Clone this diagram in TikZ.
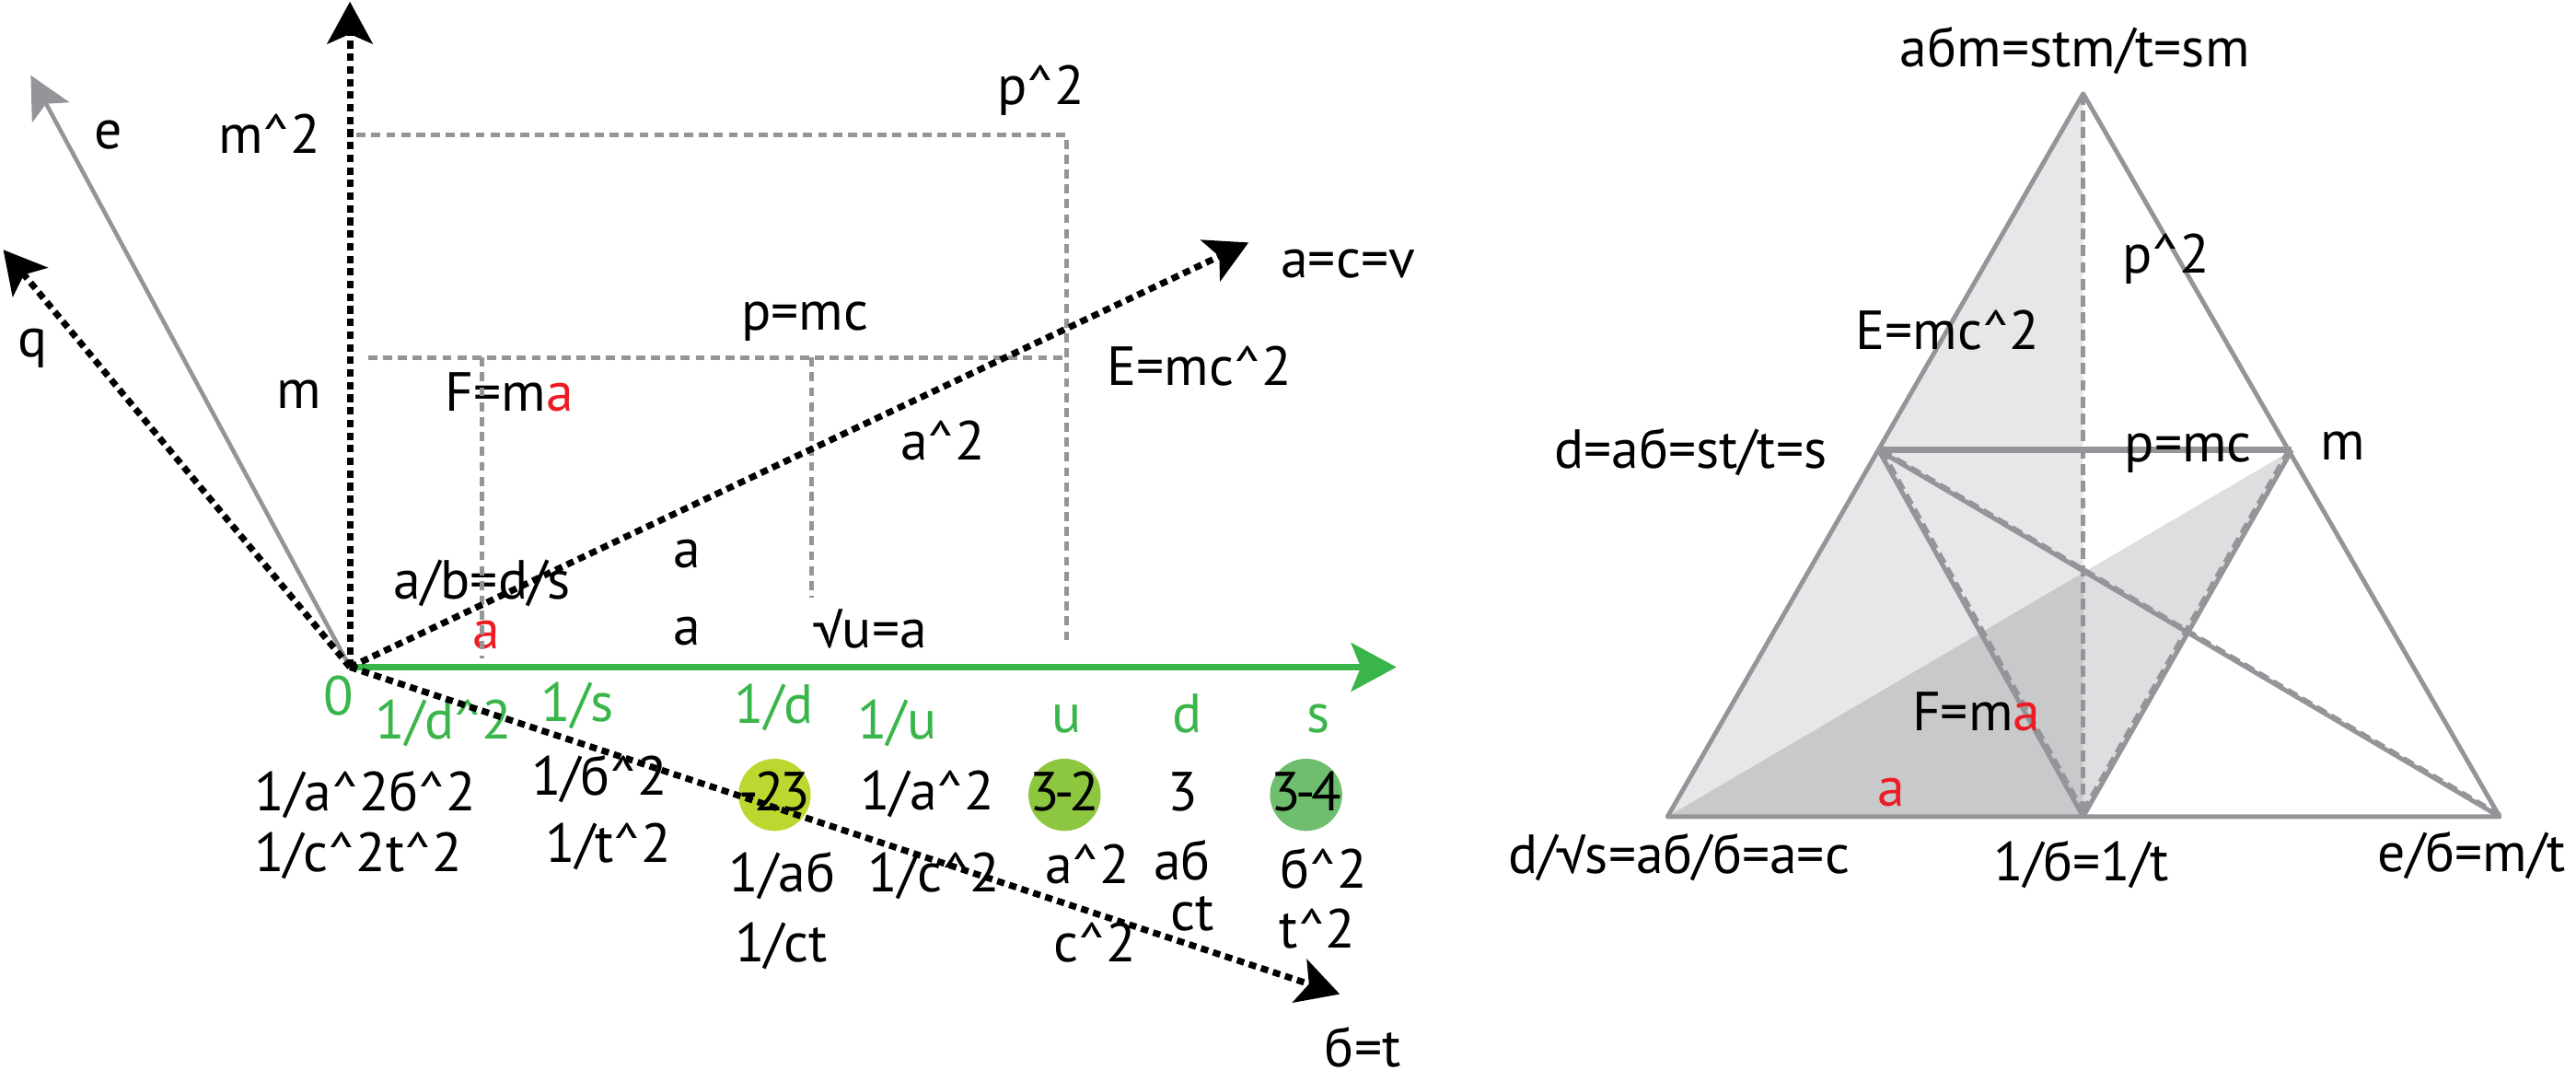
\documentclass[tikz,border=0pt]{standalone}
\usepackage{fontspec}
\setmainfont{PT Sans}
\usepackage{tikz}
\usetikzlibrary{arrows.meta,positioning}
\definecolor{EqGreen}{HTML}{39B54A}
\definecolor{EqRed}{HTML}{ED1C24}
\definecolor{EqGray}{HTML}{939598}
\definecolor{ShadeA}{HTML}{E6E7E8}
\definecolor{ShadeB}{HTML}{DDDEDF}
\definecolor{ShadeC}{HTML}{C8C9CB}
\definecolor{DotLime}{HTML}{BED630}
\definecolor{DotGreen}{HTML}{8DC63F}
\definecolor{DotSage}{HTML}{6FBE6D}
\newcommand{\pw}{\textasciicircum}

\begin{document}
\begin{tikzpicture}[
  x=0.017844cm, y=-0.017844cm,
  lbl/.style={font=\fontsize{17}{20}\selectfont,inner sep=0pt,anchor=base},
  glbl/.style={lbl,text=EqGreen},
  rlbl/.style={lbl,text=EqRed},
  dotfill/.style={circle,minimum size=22.3pt,inner sep=0pt},
  dotarr/.style={draw=black,line width=2pt,dash pattern=on 2.3pt off 1.6pt,
                 -{Stealth[length=13pt,width=14pt,inset=3pt]}},
  grayarr/.style={draw=EqGray,line width=1.3pt,-{Stealth[length=13pt,width=13pt,inset=3pt]}},
  axisarr/.style={draw=EqGreen,line width=1.9pt,-{Stealth[length=14pt,width=15pt,inset=3pt]}},
  guide/.style={draw=EqGray,line width=1.4pt,dash pattern=on 2.8pt off 1.8pt},
  rim/.style={draw=EqGray,line width=1.4pt,line join=round},
  hinge/.style={draw=EqGray,line width=1.3pt,dash pattern=on 3.4pt off 1.8pt}
]
\useasboundingbox (0,0) rectangle (1568,658);

% triangle on the right
\coordinate (apex) at (1268,57);
\coordinate (BL) at (1015,497);
\coordinate (BM) at (1268,497);
\coordinate (BR) at (1521.5,497);
\coordinate (dL) at (1143.5,274);
\coordinate (mR) at (1395,274);
\coordinate (P) at (intersection of BL--mR and apex--BM);
\fill[ShadeA] (apex) -- (BL) -- (BM) -- cycle;
\fill[ShadeB] (BL) -- (mR) -- (BM) -- cycle;
\fill[ShadeC] (BL) -- (P) -- (BM) -- cycle;
\draw[rim] (BL) -- (apex) -- (BR) -- cycle;
\draw[rim,line width=2pt] (dL) -- (mR);
\draw[hinge] (apex) -- (BM);
\foreach \a/\b/\sh in {dL/BM/1pt,dL/BR/1pt,mR/BM/-1pt} {
  \draw[rim] (\a) -- (\b);
  \draw[hinge,transform canvas={xshift=\sh}] (\a) -- (\b);
}

\node[lbl] (tTop) at (1263,40.8) {aбm=stm/t=sm};
\node[lbl] (tPsq) at (1318.5,166.4) {p\pw2};
\node[lbl] (tEmc) at (1185.5,212.6) {E=mc\pw2};
\node[lbl] (tD) at (1029,284.7) {d=aб=st/t=s};
\node[lbl] (tPmc) at (1332,281.1) {p=mc};
\node[lbl] (tM) at (1426,280.2) {m};
\node[lbl] (tFma) at (1203,444.6) {F=m\textcolor{EqRed}{a}};
\node[rlbl] (tA) at (1151,490.4) {a};
\node[lbl] (tBL) at (1022,531.6) {d/√s=aб/б=a=c};
\node[lbl] (tBM) at (1267,536) {1/б=1/t};
\node[lbl] (tBR) at (1504.5,530.5) {e/б=m/t};

% left diagram
\coordinate (O) at (213,406);
\coordinate (tipUp) at (213,1);
\coordinate (tipE) at (18.7,45.8);
\coordinate (tipQ) at (2,152);
\coordinate (tipV) at (760,147.6);
\coordinate (tipT) at (815.5,605);
\coordinate (tipX) at (850,406);

\node[dotfill,fill=DotLime] (c1) at (471.5,483.7) {};
\node[dotfill,fill=DotGreen] (c2) at (648,483.7) {};
\node[dotfill,fill=DotSage] (c3) at (795,483.7) {};

\node[lbl] (lE) at (66,90.6) {e};
\node[lbl] (lQ) at (20,217) {q};
\node[lbl] (lMsq) at (164,93.4) {m\pw2};
\node[lbl] (lM) at (182,248.5) {m};
\node[lbl] (lPsq) at (633.5,63.5) {p\pw2};
\node[lbl] (lPmc) at (490,200.8) {p=mc};
\node[lbl] (lFma) at (310,250.3) {F=m\textcolor{EqRed}{a}};
\node[lbl] (lEmc) at (730,234.5) {E=mc\pw2};
\node[lbl] (lAsq) at (574,280) {a\pw2};
\node[lbl] (lAcv) at (820.5,169) {a=c=v};
\node[lbl] (lAb) at (293.5,364.3) {a/b=d/s};
\node[lbl] (lA1) at (418,345.6) {a};
\node[lbl] (lA2) at (418,392.3) {a};
\node[rlbl] (lAr) at (296,395) {a};
\node[lbl] (lSq) at (530,394.3) {√u=a};
\node[lbl] (lT) at (829.5,649.1) {б=t};

\node[glbl] (g0) at (206,435.3) {0};
\node[glbl] (gDsq) at (270,449.6) {1/d\pw2};
\node[glbl] (gS) at (351.5,439) {1/s};
\node[glbl] (gD) at (471,440) {1/d};
\node[glbl] (gU) at (546,449.5) {1/u};
\node[glbl] (gu) at (649,446) {u};
\node[glbl] (gd) at (722.5,446) {d};
\node[glbl] (gs) at (802.5,446) {s};

\node[lbl] (r1) at (222.5,493.2) {1/a\pw2б\pw2};
\node[lbl] (r2) at (218,530.5) {1/c\pw2t\pw2};
\node[lbl] (r3) at (365,483.8) {1/б\pw2};
\node[lbl] (r4) at (370.5,525) {1/t\pw2};
\node[lbl] (c1t) at (471.5,493.7) {-\kern-1.5pt2\kern-1.2pt3};
\node[lbl] (r5) at (564.5,492.8) {1/a\pw2};
\node[lbl] (c2t) at (648,493.7) {3\kern-1.5pt-\kern-1.5pt2};
\node[lbl] (r6) at (720,493.7) {3};
\node[lbl] (c3t) at (795,493.7) {3\kern-1.5pt-\kern-1.5pt4};
\node[lbl] (r7) at (476,542.5) {1/aб};
\node[lbl] (r8) at (475.5,585.6) {1/ct};
\node[lbl] (r9) at (568.5,542.5) {1/c\pw2};
\node[lbl] (r10) at (662,537.8) {a\pw2};
\node[lbl] (r11) at (666.5,585.6) {c\pw2};
\node[lbl] (r12) at (719.5,535.4) {aб};
\node[lbl] (r13) at (726,566) {ct};
\node[lbl] (r14) at (805.5,540.6) {б\pw2};
\node[lbl] (r15) at (802,576.8) {t\pw2};

% guide lines
\coordinate (gTL) at (217,82);
\coordinate (gTR) at (649,82);
\coordinate (gBR) at (649,390.5);
\coordinate (gML) at (224,217.6);
\coordinate (gMR) at (649,217.6);
\coordinate (vA) at (293.5,217.6);
\coordinate (vAb) at (293.5,400.7);
\coordinate (vB) at (494,217.6);
\coordinate (vBb) at (494,363.5);
\draw[guide] (gTL) -- (gTR) -- (gBR);
\draw[guide] (gML) -- (gMR);
\draw[guide] (vA) -- (vAb);
\draw[guide] (vB) -- (vBb);

\draw[axisarr] (O) -- (tipX);
\draw[grayarr] (O) -- (tipE);
\draw[dotarr] (O) -- (tipQ);
\draw[dotarr] (O) -- (tipUp);
\draw[dotarr] (O) -- (tipV);
\draw[dotarr] (O) -- (tipT);
\end{tikzpicture}
\end{document}
